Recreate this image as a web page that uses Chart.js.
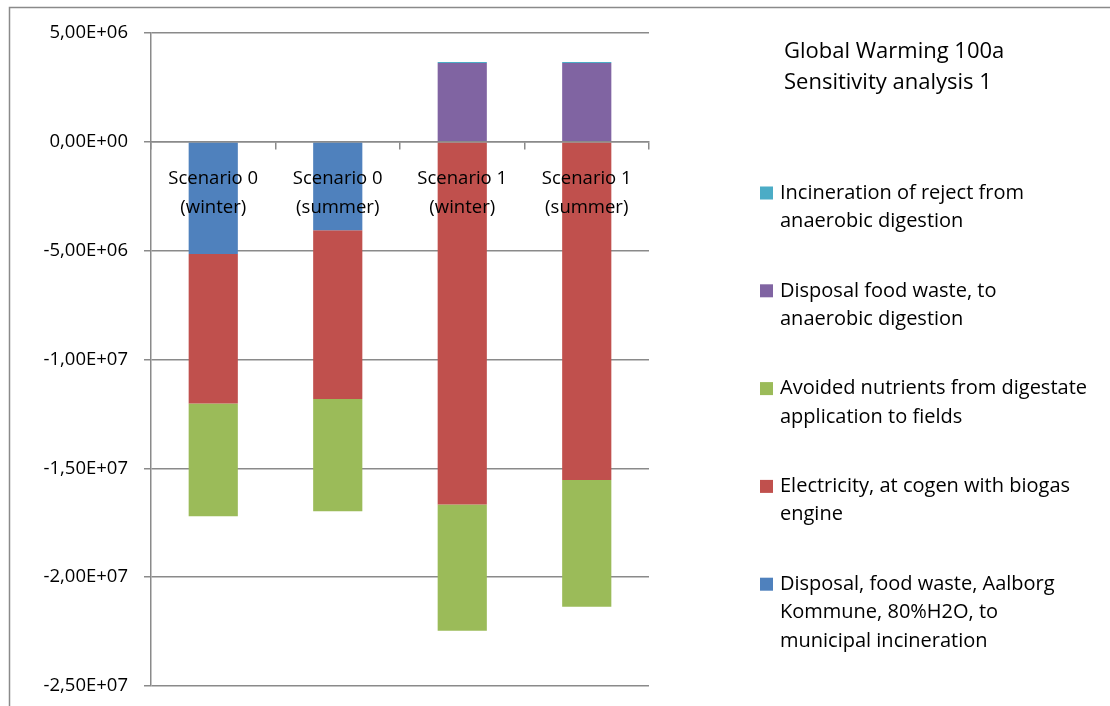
<!DOCTYPE html>
<html>
<head>
<meta charset="utf-8">
<script src="https://cdn.jsdelivr.net/npm/chart.js@4/dist/chart.umd.min.js"></script>
<style>
  html, body { margin: 0; padding: 0; background: #ffffff; overflow: hidden; }
  #wrap { width: 1110px; height: 706px; position: relative; overflow: hidden; }
</style>
</head>
<body>
<div id="wrap"><canvas id="chart" width="1110" height="713"></canvas></div>
<script>
// Scenario categories (two-line axis labels)
const categories = [
  ["Scenario 0", "(winter)"],
  ["Scenario 0", "(summer)"],
  ["Scenario 1", "(winter)"],
  ["Scenario 1", "(summer)"]
];

// Series names, split into the lines shown in the legend
const nameDisposalIncineration = ["Disposal, food waste, Aalborg", "Kommune, 80%H2O, to", "municipal incineration"];
const nameElectricity = ["Electricity, at cogen with biogas", "engine"];
const nameAvoidedNutrients = ["Avoided nutrients from digestate", "application to fields"];
const nameDisposalDigestion = ["Disposal food waste, to", "anaerobic digestion"];
const nameRejectIncineration = ["Incineration of reject from", "anaerobic digestion"];

// Global warming contributions per scenario (kg CO2-eq)
const disposalIncineration = [-5.15e6, -4.06e6, 0, 0];
const electricityCogen     = [-6.87e6, -7.76e6, -16.66e6, -15.54e6];
const avoidedNutrients     = [-5.19e6, -5.16e6, -5.81e6, -5.82e6];
const disposalDigestion    = [0, 0, 3.62e6, 3.62e6];
const rejectIncineration   = [0, 0, 0.05e6, 0.05e6];

// Value axis ticks
const yTicks = [5e6, 0, -5e6, -1e7, -1.5e7, -2e7, -2.5e7];

const chartTitle = ["Global Warming 100a", "Sensitivity analysis 1"];

const FONT = "'Open Sans', sans-serif";
const GRID = "#8a8a8a";

// Excel-style scientific label: 5,00E+06
function sci(v) {
  const [m, e] = v.toExponential(2).split("e");
  const n = parseInt(e, 10);
  const exp = (n < 0 ? "-" : "+") + String(Math.abs(n)).padStart(2, "0");
  return m.replace(".", ",") + "E" + exp;
}

const datasets = [
  { label: nameDisposalIncineration, data: disposalIncineration, backgroundColor: "#4F81BD" },
  { label: nameElectricity,          data: electricityCogen,     backgroundColor: "#C0504D" },
  { label: nameAvoidedNutrients,     data: avoidedNutrients,     backgroundColor: "#9BBB59" },
  { label: nameDisposalDigestion,    data: disposalDigestion,    backgroundColor: "#8064A2" },
  { label: nameRejectIncineration,   data: rejectIncineration,   backgroundColor: "#4BACC6" }
].map(d => Object.assign(d, { borderWidth: 0, categoryPercentage: 1, barPercentage: 0.395 }));

// Outer frame, title and legend drawn onto the canvas
const decorations = {
  id: "decorations",
  beforeDraw(chart) {
    const ctx = chart.ctx;
    ctx.save();
    ctx.strokeStyle = GRID;
    ctx.lineWidth = 1.5;
    ctx.beginPath();
    ctx.moveTo(9.5, 720);
    ctx.lineTo(9.5, 7.5);
    ctx.lineTo(1115, 7.5);
    ctx.stroke();
    ctx.restore();
  },
  afterDraw(chart) {
    const ctx = chart.ctx;
    ctx.save();
    ctx.fillStyle = "#000000";
    ctx.textBaseline = "middle";
    ctx.textAlign = "left";
    ctx.font = "22px " + FONT;
    chartTitle.forEach((t, i) => ctx.fillText(t, 784, 52 + i * 31));

    ctx.font = "20px " + FONT;
    const lineH = 28.3, gap = 41.2;
    let y = 193;
    const ds = chart.data.datasets.slice().reverse();
    ds.forEach(d => {
      ctx.fillStyle = d.backgroundColor;
      ctx.fillRect(760, y - 6.5, 13, 13);
      ctx.fillStyle = "#000000";
      d.label.forEach((line, i) => ctx.fillText(line, 780, y + i * lineH));
      y += d.label.length * lineH + gap;
    });
    ctx.restore();
  }
};

new Chart(document.getElementById("chart"), {
  type: "bar",
  data: { labels: categories, datasets },
  options: {
    responsive: false,
    animation: false,
    layout: { padding: { left: 0, top: 33, right: 461, bottom: 15 } },
    plugins: { legend: { display: false }, tooltip: { enabled: false }, title: { display: false } },
    scales: {
      x: {
        stacked: true,
        position: { y: 0 },
        grid: {
          display: true, offset: true, drawOnChartArea: false, drawTicks: true,
          tickLength: 7, color: GRID, lineWidth: 1.5
        },
        border: { display: true, color: GRID, width: 1.5, z: 1 },
        ticks: {
          z: 1, autoSkip: false, maxRotation: 0, minRotation: 0, padding: 15,
          color: "#000000", font: { family: FONT, size: 18.5, lineHeight: "29px" }
        }
      },
      y: {
        stacked: true,
        min: -2.5e7,
        max: 5e6,
        afterFit(scale) { scale.width = 151; },
        afterBuildTicks(scale) { scale.ticks = yTicks.map(v => ({ value: v })); },
        grid: { color: GRID, lineWidth: 1.5, tickLength: 7, drawTicks: true },
        border: { display: true, color: GRID, width: 1.5 },
        ticks: {
          padding: 16, color: "#000000",
          font: { family: FONT, size: 18.5 },
          callback: v => sci(v)
        }
      }
    }
  },
  plugins: [decorations]
});
</script>
</body>
</html>
